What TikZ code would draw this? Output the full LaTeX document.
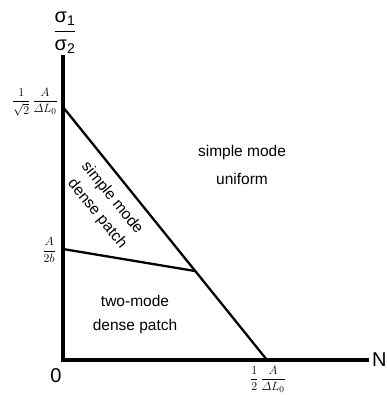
\documentclass[tikz,border=0pt]{standalone}
\usepackage{amsmath}
\usepackage{fontspec}
\setmainfont{Liberation Sans}
\usetikzlibrary{positioning, calc}
\tikzset{
  axis/.style={line width=3.6pt, line cap=rect},
  boundary/.style={line width=2.3pt},
  regionlabel/.style={font=\fontsize{15.5}{19}\selectfont, align=center, inner sep=0pt},
  ticklabel/.style={font=\fontsize{13}{15}\selectfont, inner sep=0pt},
  axislabel/.style={font=\fontsize{20}{22}\selectfont, inner sep=0pt}
}
\begin{document}
\begin{tikzpicture}[x=1pt, y=-1pt]
  \useasboundingbox (0,0) rectangle (386,395);
  % axes
  \coordinate (orig) at (63,360);
  \coordinate (ytop) at (63,57);
  \coordinate (xend) at (367,360);
  % corners of the regions
  \coordinate (ydiag) at (63,107);
  \coordinate (xdiag) at (267,360);
  \coordinate (ypatch) at (63,249);
  \coordinate (meet) at (195,271);

  \draw[axis] (ytop) -- (orig) -- (xend);
  \draw[boundary] (ydiag) -- (xdiag);
  \draw[boundary] (ypatch) -- (meet);

  \node[axislabel] (ratio) at (65,33)
      {$\dfrac{\mbox{σ}_{\mbox{\fontsize{14}{14}\selectfont 1}}}{\mbox{σ}_{\mbox{\fontsize{14}{14}\selectfont 2}}}$};
  \node[axislabel, right=5pt of xend] (nlab) {N};
  \node[axislabel] (zero) at (56,376) {0};

  \node[ticklabel, anchor=east] (ytick) at (58,102)
      {$\dfrac{1}{\sqrt{2}}\,\dfrac{A}{\varDelta L_0}$};
  \node[ticklabel, anchor=east] (ptick) at (56,250) {$\dfrac{A}{2b}$};
  \node[ticklabel, anchor=north] (xtick) at (268,366)
      {$\dfrac{1}{2}\,\dfrac{A}{\varDelta L_0}$};

  \node[regionlabel] (uniform) at (242,165) {simple mode\\[9pt]uniform};
  \node[regionlabel] (twomode) at (135,314) {two-mode\\[5pt]dense patch};
  \node[regionlabel, rotate=-51] (simplemode) at (112,198) {simple mode};
  \node[regionlabel, rotate=-51] (densepatch) at (97,214) {dense patch};
\end{tikzpicture}
\end{document}
